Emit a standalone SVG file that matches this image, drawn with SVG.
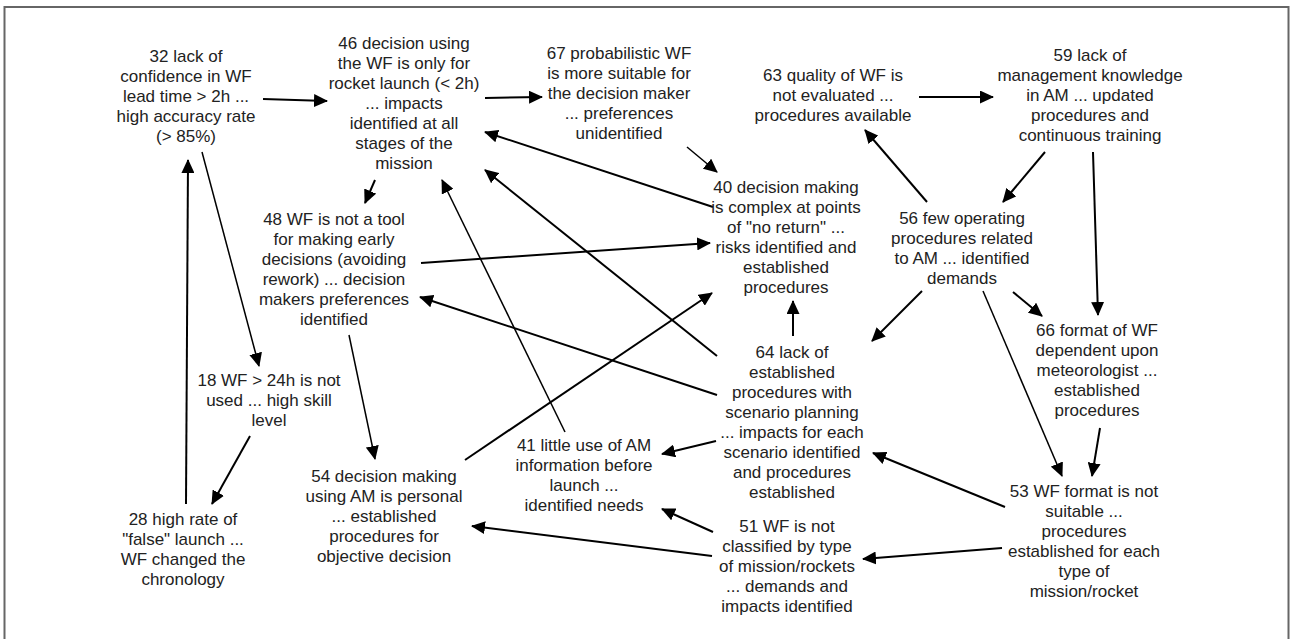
<svg xmlns="http://www.w3.org/2000/svg" width="1290" height="639" viewBox="0 0 1290 639">
<style>
text{font-family:"Liberation Sans",Arial,sans-serif;font-size:17px;fill:#222;text-anchor:middle}
.c line{stroke:#000;stroke-width:2;marker-end:url(#ah)}
.c line.t{stroke-width:1.5}
</style>
<defs>
<marker id="ah" markerUnits="userSpaceOnUse" markerWidth="15" markerHeight="13" refX="13" refY="6.5" orient="auto">
<path d="M0,0 L14,6.5 L0,13 z" fill="#000"/>
</marker>
</defs>
<rect x="0" y="0" width="1290" height="639" fill="#fff"/>
<rect x="4.5" y="7" width="1284" height="660" fill="none" stroke="#666" stroke-width="2"/>
<g class="c" id="connectors">
<line x1="263" y1="99" x2="327" y2="101"/>
<line x1="485" y1="98" x2="542" y2="97"/>
<line class="t" x1="687" y1="147" x2="717" y2="172"/>
<line x1="919" y1="97" x2="993" y2="97"/>
<line x1="1045" y1="152" x2="1003" y2="202"/>
<line x1="1093" y1="152" x2="1098" y2="315"/>
<line x1="927" y1="202" x2="865" y2="130"/>
<line x1="922" y1="291" x2="872" y2="341"/>
<line x1="1013" y1="292" x2="1042" y2="316"/>
<line class="t" x1="983" y1="291" x2="1062" y2="476"/>
<line x1="1100" y1="428" x2="1092" y2="476"/>
<line x1="1005" y1="507" x2="873" y2="453"/>
<line x1="1002" y1="548" x2="863" y2="559"/>
<line x1="713" y1="532" x2="662" y2="509"/>
<line x1="712" y1="556" x2="472" y2="526"/>
<line x1="716" y1="441" x2="662" y2="454"/>
<line x1="793" y1="336" x2="793" y2="301"/>
<line x1="717" y1="395" x2="420" y2="297"/>
<line x1="717" y1="356" x2="485" y2="170"/>
<line x1="713" y1="207" x2="485" y2="132"/>
<line x1="421" y1="263" x2="710" y2="243"/>
<line x1="465" y1="460" x2="712" y2="293"/>
<line class="t" x1="565" y1="432" x2="442" y2="180"/>
<line x1="375" y1="180" x2="365" y2="203"/>
<line class="t" x1="202" y1="152" x2="259" y2="366"/>
<line x1="250" y1="436" x2="212" y2="504"/>
<line x1="186" y1="504" x2="188" y2="160"/>
<line class="t" x1="349" y1="335" x2="375" y2="459"/>
</g>
<g id="n32"><text x="186" y="62">32 lack of</text><text x="186" y="82">confidence in WF</text><text x="186" y="102">lead time &gt; 2h ...</text><text x="186" y="122">high accuracy rate</text><text x="186" y="142">(&gt; 85%)</text></g>
<g id="n46"><text x="404" y="49">46 decision using</text><text x="404" y="69">the WF is only for</text><text x="404" y="89">rocket launch (&lt; 2h)</text><text x="404" y="109">... impacts</text><text x="404" y="129">identified at all</text><text x="404" y="149">stages of the</text><text x="404" y="169">mission</text></g>
<g id="n67"><text x="619" y="59">67 probabilistic WF</text><text x="619" y="79">is more suitable for</text><text x="619" y="99">the decision maker</text><text x="619" y="119">... preferences</text><text x="619" y="139">unidentified</text></g>
<g id="n63"><text x="833" y="81">63 quality of WF is</text><text x="833" y="101">not evaluated ...</text><text x="833" y="121">procedures available</text></g>
<g id="n59"><text x="1090" y="61">59 lack of</text><text x="1090" y="81">management knowledge</text><text x="1090" y="101">in AM ... updated</text><text x="1090" y="121">procedures and</text><text x="1090" y="141">continuous training</text></g>
<g id="n40"><text x="786" y="193">40 decision making</text><text x="786" y="213">is complex at points</text><text x="786" y="233">of "no return" ...</text><text x="786" y="253">risks identified and</text><text x="786" y="273">established</text><text x="786" y="293">procedures</text></g>
<g id="n56"><text x="962" y="224">56 few operating</text><text x="962" y="244">procedures related</text><text x="962" y="264">to AM ... identified</text><text x="962" y="284">demands</text></g>
<g id="n48"><text x="334" y="225">48 WF is not a tool</text><text x="334" y="245">for making early</text><text x="334" y="265">decisions (avoiding</text><text x="334" y="285">rework) ... decision</text><text x="334" y="305">makers preferences</text><text x="334" y="325">identified</text></g>
<g id="n18"><text x="269" y="386">18 WF &gt; 24h is not</text><text x="269" y="406">used ... high skill</text><text x="269" y="426">level</text></g>
<g id="n28"><text x="183" y="525">28 high rate of</text><text x="183" y="545">"false" launch ...</text><text x="183" y="565">WF changed the</text><text x="183" y="585">chronology</text></g>
<g id="n54"><text x="384" y="482">54 decision making</text><text x="384" y="502">using AM is personal</text><text x="384" y="522">... established</text><text x="384" y="542">procedures for</text><text x="384" y="562">objective decision</text></g>
<g id="n41"><text x="584" y="451">41 little use of AM</text><text x="584" y="471">information before</text><text x="584" y="491">launch ...</text><text x="584" y="511">identified needs</text></g>
<g id="n64"><text x="792" y="358">64 lack of</text><text x="792" y="378">established</text><text x="792" y="398">procedures with</text><text x="792" y="418">scenario planning</text><text x="792" y="438">... impacts for each</text><text x="792" y="458">scenario identified</text><text x="792" y="478">and procedures</text><text x="792" y="498">established</text></g>
<g id="n66"><text x="1097" y="336">66 format of WF</text><text x="1097" y="356">dependent upon</text><text x="1097" y="376">meteorologist ...</text><text x="1097" y="396">established</text><text x="1097" y="416">procedures</text></g>
<g id="n53"><text x="1084" y="497">53 WF format is not</text><text x="1084" y="517">suitable ...</text><text x="1084" y="537">procedures</text><text x="1084" y="557">established for each</text><text x="1084" y="577">type of</text><text x="1084" y="597">mission/rocket</text></g>
<g id="n51"><text x="787" y="532">51 WF is not</text><text x="787" y="552">classified by type</text><text x="787" y="572">of mission/rockets</text><text x="787" y="592">... demands and</text><text x="787" y="612">impacts identified</text></g>
</svg>
